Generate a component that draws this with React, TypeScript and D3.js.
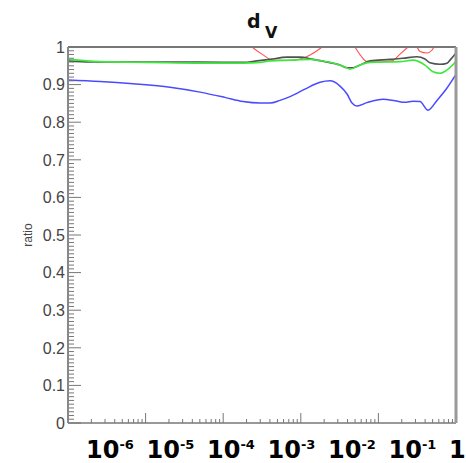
import React from 'react';
import * as d3 from 'd3';

// ---- data ----
const blueX = [1e-5, 2.58e-5, 6.89e-5, 2.06e-4, 5.02e-4, 1.05e-3, 1.8e-3, 2.98e-3, 4.01e-3, 5.4e-3, 7.26e-3, 1.13e-2, 1.77e-2, 2.38e-2, 3.2e-2, 3.94e-2, 4.57e-2, 5.3e-2, 7.13e-2, 0.115, 0.164, 0.22, 0.279, 0.343, 0.436, 0.569, 0.766, 1.0];
const blueY = [0.912, 0.908, 0.902, 0.893, 0.88, 0.866, 0.855, 0.851, 0.851, 0.858, 0.868, 0.888, 0.906, 0.91, 0.896, 0.875, 0.851, 0.843, 0.852, 0.861, 0.857, 0.853, 0.856, 0.855, 0.832, 0.858, 0.891, 0.927];

const blackX = [1e-5, 1.92e-5, 1.14e-4, 5.02e-4, 1.8e-3, 2.73e-3, 4.01e-3, 6.64e-3, 9.77e-3, 1.44e-2, 2.05e-2, 3.2e-2, 3.94e-2, 4.71e-2, 5.8e-2, 7.8e-2, 0.141, 0.207, 0.314, 0.398, 0.462, 0.622, 0.766, 0.837, 1.0];
const blackY = [0.963, 0.96, 0.96, 0.96, 0.959, 0.963, 0.967, 0.973, 0.973, 0.967, 0.961, 0.952, 0.945, 0.945, 0.952, 0.963, 0.967, 0.97, 0.974, 0.968, 0.958, 0.954, 0.957, 0.965, 0.984];

const greenX = [1e-5, 2.58e-5, 1.14e-4, 5.02e-4, 1.8e-3, 2.98e-3, 4.01e-3, 7.26e-3, 1.32e-2, 1.77e-2, 2.76e-2, 3.71e-2, 4.31e-2, 5.8e-2, 7.8e-2, 0.19, 0.279, 0.398, 0.506, 0.622, 0.766, 1.0];
const greenY = [0.967, 0.961, 0.959, 0.957, 0.957, 0.959, 0.963, 0.965, 0.967, 0.964, 0.956, 0.947, 0.941, 0.952, 0.959, 0.961, 0.965, 0.952, 0.934, 0.93, 0.939, 0.961];

const redX = [1e-5, 1.42e-3, 2.35e-3, 3.16e-3, 4.38e-3, 7.26e-3, 9.77e-3, 1.32e-2, 1.88e-2, 2.76e-2, 3.71e-2, 4.99e-2, 5.97e-2, 7.13e-2, 0.105, 0.15, 0.19, 0.24, 0.279, 0.314, 0.343, 0.423, 0.491, 0.52, 0.622, 1.0];
const redY = [1.2, 1.045, 1.0, 0.981, 0.965, 0.964, 0.968, 0.979, 1.0, 1.032, 1.045, 1.0, 0.976, 0.961, 0.96, 0.963, 0.981, 1.0, 1.013, 1.0, 0.988, 0.984, 0.992, 1.0, 1.019, 1.05];

const yTickLabels = ['0', '0.1', '0.2', '0.3', '0.4', '0.5', '0.6', '0.7', '0.8', '0.9', '1'];
const xLabelBase = ['10', '10', '10', '10', '10', '10', '1'];
const xLabelExp = ['-6', '-5', '-4', '-3', '-2', '-1', ''];

const W = 466, H = 463;
const L = 68, R = 456, T = 47, B = 423;

export default function App() {
  const x = d3.scaleLog().domain([1e-5, 1]).range([L, R]);
  const y = d3.scaleLinear().domain([0, 1]).range([B, T]);
  const xl = d3.scalePoint<string>().domain(xLabelExp.map((_, i) => String(i))).range([86, 449]);

  const mk = (xs: number[], ys: number[]) =>
    d3.line<number>().x((_, i) => x(xs[i])).y((d) => y(d)).curve(d3.curveMonotoneX)(ys) || '';

  // x ticks
  const xTicks: { v: number; major: boolean }[] = [];
  for (let e = -5; e <= 0; e++) {
    for (let m = 1; m <= 9; m++) {
      const v = m * Math.pow(10, e);
      if (v > 1.0001) break;
      xTicks.push({ v, major: m === 1 });
    }
  }
  const yMinor = d3.range(0, 101).map((i) => i / 100);

  return (
    <svg width={W} height={H} style={{ position: 'absolute', left: 0, top: 0, background: '#fff' }}>
      <defs>
        <clipPath id="plot">
          <rect x={L} y={T} width={R - L} height={B - T} />
        </clipPath>
      </defs>
      <rect x={0} y={0} width={W} height={H} fill="#fff" />

      {/* title */}
      <text x={247} y={28} fontFamily="DejaVu Sans" fontWeight="bold" fontSize={19} fill="#111">d</text>
      <text x={265} y={38} fontFamily="DejaVu Sans" fontWeight="bold" fontSize={16} fill="#111">V</text>

      {/* curves */}
      <g clipPath="url(#plot)" fill="none">
        <path d={mk(redX, redY)} stroke="#ff5050" strokeWidth={1.1} />
        <path d={mk(blackX, blackY)} stroke="#505050" strokeWidth={1.6} />
        <path d={mk(greenX, greenY)} stroke="#3ee83e" strokeWidth={1.6} />
        <path d={mk(blueX, blueY)} stroke="#4a4aff" strokeWidth={1.5} />
      </g>

      {/* y ticks */}
      {yMinor.map((v, i) => (
        <line key={'ym' + i} x1={L} x2={L + (i % 10 === 0 ? 13 : 6)} y1={y(v)} y2={y(v)} stroke="#777" strokeWidth={1} />
      ))}
      {/* x ticks */}
      {xTicks.map((t, i) => (
        <line key={'xt' + i} x1={x(t.v)} x2={x(t.v)} y1={B} y2={B - (t.major ? 10 : 4)} stroke="#777" strokeWidth={1} />
      ))}

      {/* frame */}
      <line x1={L} x2={R} y1={T} y2={T} stroke="#777" strokeWidth={2} />
      <line x1={L} x2={L} y1={T} y2={B} stroke="#888" strokeWidth={2} />
      <line x1={L} x2={R} y1={B} y2={B} stroke="#777" strokeWidth={1.5} />
      <line x1={R} x2={R} y1={T} y2={B} stroke="#999" strokeWidth={3} />

      {/* y labels */}
      {yTickLabels.map((s, i) => (
        <text key={'yl' + i} x={65} y={y(+s)} dy="0.36em" textAnchor="end" fontFamily="Liberation Sans, Arial" fontSize={16} fill="#444">{s}</text>
      ))}
      <text transform={`translate(32,${(T + B) / 2}) rotate(-90)`} textAnchor="middle" fontFamily="Liberation Sans, Arial" fontSize={12} fill="#444">ratio</text>

      {/* x labels */}
      {xLabelBase.map((b, i) => (
        <text key={'xl' + i} x={xl(String(i))} y={458} fontFamily="DejaVu Sans" fontWeight="bold" fontSize={24} fill="#000">
          {b}
          {xLabelExp[i] && <tspan dy={-9} fontSize={13}>{xLabelExp[i]}</tspan>}
        </text>
      ))}
    </svg>
  );
}
